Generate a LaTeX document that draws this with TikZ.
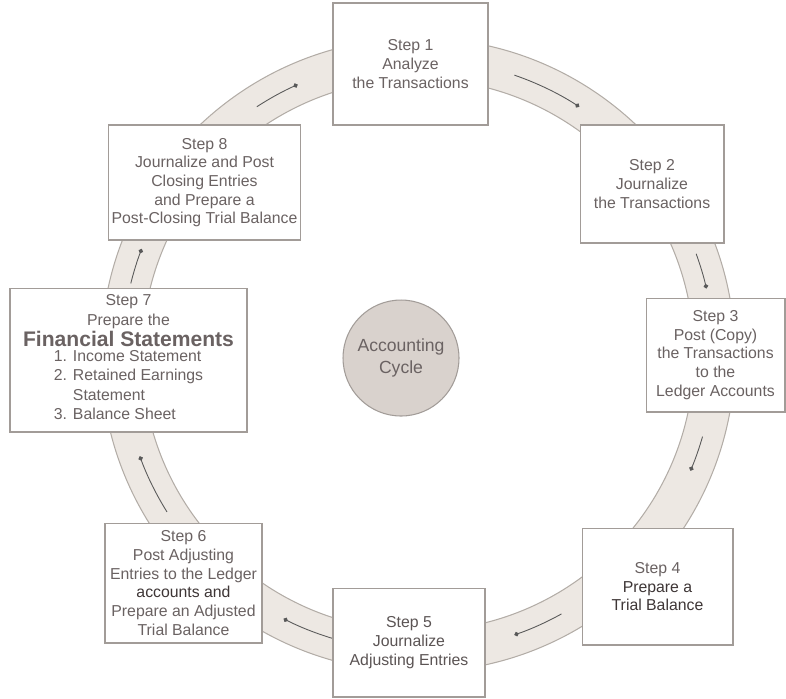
\documentclass[tikz,border=0pt]{standalone}
\usepackage{fontspec}
\setmainfont{Liberation Sans}
\usetikzlibrary{arrows.meta}

\definecolor{ringfill}{HTML}{EDE8E3}
\definecolor{ringline}{HTML}{B3ADA7}
\definecolor{boxline}{HTML}{A29C98}
\definecolor{txt}{HTML}{6A6262}
\definecolor{txtdark}{HTML}{3E3636}
\definecolor{hubfill}{HTML}{D9D2CD}

\begin{document}
\begin{tikzpicture}[x=0.02cm, y=-0.02cm,
    stepbox/.style={draw=boxline, fill=white, line width=0.6pt, align=center,
        text=txt, font=\fontsize{9}{10.6}\selectfont, inner sep=2pt},
    flow/.style={draw=black!65, line width=0.5pt, -{Circle[length=2.6pt]}}]
    \useasboundingbox (0,0) rectangle (786,698);
    \coordinate (O) at (418,355);

    \fill[ringfill, even odd rule] (O) circle (317) (O) circle (276);
    \draw[ringline, line width=0.6pt] (O) circle (317);
    \draw[ringline, line width=0.6pt] (O) circle (276);

    \foreach \a/\b in {237/246, 289/303, 340/347, 16/23, 61/71, 106/117, 148/160, 194/201}
    \draw[flow] ([shift={(\a:296)}]O) arc (\a:\b:296);

    \node[stepbox, minimum width=3.1cm, minimum height=2.44cm] (s1) at (410.5,64)
        {Step 1\\Analyze\\the Transactions};
    \node[stepbox, minimum width=2.88cm, minimum height=2.36cm] (s2) at (652,184)
        {Step 2\\Journalize\\the Transactions};
    \node[stepbox, minimum width=2.78cm, minimum height=2.28cm] (s3) at (715.5,355)
        {Step 3\\Post (Copy)\\the Transactions\\to the\\Ledger Accounts};
    \node[stepbox, minimum width=3.02cm, minimum height=2.34cm, text depth=-6pt] (s4) at (657.5,586.5)
        {Step 4\\{\color{txtdark}Prepare a}\\{\color{txtdark}Trial Balance}};
    \node[stepbox, minimum width=3.04cm, minimum height=2.18cm, text=txtdark!85] (s5) at (409,642.5)
        {Step 5\\Journalize\\Adjusting Entries};
    \node[stepbox, minimum width=3.14cm, minimum height=2.4cm] (s6) at (183.5,583)
        {Step 6\\Post Adjusting\\Entries to the Ledger\\{\color{txtdark}accounts and}\\Prepare an Adjusted\\Trial Balance};
    \node[stepbox, minimum width=4.74cm, minimum height=2.88cm, font=\fontsize{9}{11}\selectfont] (s7) at (128.5,360)
        {Step 7\\Prepare the\\[1pt]{\fontsize{12}{13}\selectfont\bfseries Financial Statements}\\
        \begin{tabular}{@{}l@{}}1. Income Statement\\2. Retained Earnings\\\hphantom{2. }Statement\\3. Balance Sheet\end{tabular}};
    \node[stepbox, minimum width=3.66cm, minimum height=2.3cm] (s8) at (204.5,182.5)
        {Step 8\\Journalize and Post\\Closing Entries\\and Prepare a\\Post-Closing Trial Balance};

    \node[circle, draw=boxline, fill=hubfill, line width=0.6pt, minimum size=2.32cm,
        text=txt, font=\fontsize{10}{12.5}\selectfont, align=center] (hub) at (401,358)
        {Accounting\\Cycle};
\end{tikzpicture}
\end{document}
